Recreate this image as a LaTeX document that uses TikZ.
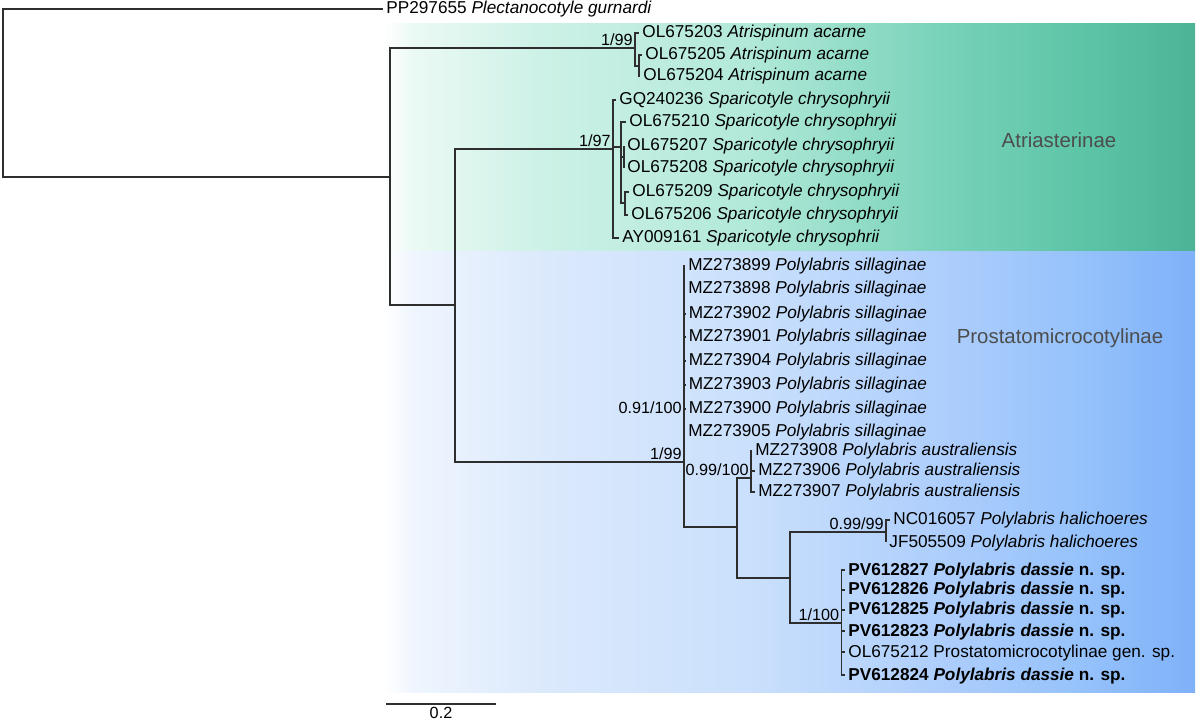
\documentclass[tikz,border=0pt]{standalone}
\usepackage{fontspec}
\setmainfont{Liberation Sans}

\definecolor{TreeLine}{HTML}{2E2E2E}
\definecolor{CladeText}{HTML}{4D4D4D}
% green band
\definecolor{Ga}{RGB}{234,249,244}
\definecolor{Gb}{RGB}{204,241,230}
\definecolor{Gc}{RGB}{178,233,217}
\definecolor{Gd}{RGB}{118,209,184}
\definecolor{Ge}{RGB}{92,196,166}
\definecolor{Gf}{RGB}{76,179,151}
% blue band
\definecolor{Ba}{RGB}{238,245,254}
\definecolor{Bb}{RGB}{219,233,252}
\definecolor{Bc}{RGB}{202,224,252}
\definecolor{Bd}{RGB}{172,205,252}
\definecolor{Be}{RGB}{148,193,251}
\definecolor{Bf}{RGB}{127,177,249}

\pgfdeclarehorizontalshading{AtriBand}{100bp}{color(0bp)=(white); color(25bp)=(white);
  color(27bp)=(Ga); color(35bp)=(Gb); color(47.5bp)=(Gc); color(60bp)=(Gd);
  color(68.5bp)=(Ge); color(75bp)=(Gf); color(100bp)=(Gf)}
\pgfdeclarehorizontalshading{ProstBand}{100bp}{color(0bp)=(white); color(25bp)=(white);
  color(27bp)=(Ba); color(35bp)=(Bb); color(47.5bp)=(Bc); color(60bp)=(Bd);
  color(68.5bp)=(Be); color(75bp)=(Bf); color(100bp)=(Bf)}

\begin{document}
\begin{tikzpicture}[x=0.5pt, y=-0.5pt,
  branch/.style={line width=0.7pt, draw=TreeLine},
  leaf/.style={anchor=west, inner xsep=1.5pt, inner ysep=0pt, text height=6.2pt, text depth=1.2pt,
    font=\fontsize{8.6}{10}\selectfont},
  support/.style={anchor=south east, inner xsep=1pt, inner ysep=1.2pt,
    font=\fontsize{8.1}{10}\selectfont},
  clade/.style={text=CladeText, font=\fontsize{10.2}{12}\selectfont}]

 \useasboundingbox (0,0) rectangle (1200,721);

 %%%%%%%%%% Subfamily bands %%%%%%%%%%
 \shade [shading=AtriBand] (383,24) rectangle (1195,252);
 \shade [shading=ProstBand] (383,252) rectangle (1195,692);

 \node [clade] (atri) at (1059,140) {Atriasterinae};
 \node [clade] (prost) at (1060,338) {Prostatomicrocotylinae};

 %%%%%%%%%% Internal nodes %%%%%%%%%%
 \coordinate (root) at (3,93);
 \coordinate (n1) at (390,177);
 \coordinate (atr) at (635,48);
 \coordinate (atr2) at (639,66);
 \coordinate (n2) at (455,305);
 \coordinate (spa) at (613,149);
 \coordinate (spa1) at (621,147);
 \coordinate (spa2) at (624,157);
 \coordinate (spa3) at (625,203);
 \coordinate (pA) at (684,462);
 \coordinate (pB) at (684,416);
 \coordinate (pC) at (737,527);
 \coordinate (aus) at (751,478);
 \coordinate (pD) at (790,578);
 \coordinate (hal) at (886,532);
 \coordinate (das) at (841.5,623);

 %%%%%%%%%% Leaves %%%%%%%%%%
 \node [leaf] (pp) at (383,9) {PP297655 \textit{Plectanocotyle gurnardi}};

 % Atrispinum
 \node [leaf] (l03) at (639,33) {OL675203 \textit{Atrispinum acarne}};
 \node [leaf] (l05) at (642,55) {OL675205 \textit{Atrispinum acarne}};
 \node [leaf] (l04) at (640,76) {OL675204 \textit{Atrispinum acarne}};

 % Sparicotyle
 \node [leaf] (gq) at (616,100) {GQ240236 \textit{Sparicotyle chrysophryii}};
 \node [leaf] (l10) at (626,122) {OL675210 \textit{Sparicotyle chrysophryii}};
 \node [leaf] (l07) at (624,146) {OL675207 \textit{Sparicotyle chrysophryii}};
 \node [leaf] (l08) at (624,168) {OL675208 \textit{Sparicotyle chrysophryii}};
 \node [leaf] (l09) at (629,192) {OL675209 \textit{Sparicotyle chrysophryii}};
 \node [leaf] (l06) at (628,215) {OL675206 \textit{Sparicotyle chrysophryii}};
 \node [leaf] (ay) at (619,238) {AY009161 \textit{Sparicotyle chrysophrii}};

 % P. sillaginae
 \node [leaf] (m99) at (685,266) {MZ273899 \textit{Polylabris sillaginae}};
 \node [leaf] (m98) at (685,289) {MZ273898 \textit{Polylabris sillaginae}};
 \node [leaf] (m02) at (685.5,314) {MZ273902 \textit{Polylabris sillaginae}};
 \node [leaf] (m01) at (685.5,337) {MZ273901 \textit{Polylabris sillaginae}};
 \node [leaf] (m04) at (685.5,361) {MZ273904 \textit{Polylabris sillaginae}};
 \node [leaf] (m03) at (685.5,385) {MZ273903 \textit{Polylabris sillaginae}};
 \node [leaf] (m00) at (685.5,409) {MZ273900 \textit{Polylabris sillaginae}};
 \node [leaf] (m05) at (685,432) {MZ273905 \textit{Polylabris sillaginae}};

 % P. australiensis
 \node [leaf] (m08) at (752,451) {MZ273908 \textit{Polylabris australiensis}};
 \node [leaf] (m06) at (755,471) {MZ273906 \textit{Polylabris australiensis}};
 \node [leaf] (m07) at (755,492) {MZ273907 \textit{Polylabris australiensis}};

 % P. halichoeres
 \node [leaf] (nc) at (890,520) {NC016057 \textit{Polylabris halichoeres}};
 \node [leaf] (jf) at (886,542) {JF505509 \textit{Polylabris halichoeres}};

 % P. dassie
 \node [leaf] (v27) at (845,570) {\bfseries PV612827 \textit{Polylabris dassie} n. sp.};
 \node [leaf] (v26) at (845,590) {\bfseries PV612826 \textit{Polylabris dassie} n. sp.};
 \node [leaf] (v25) at (845,610) {\bfseries PV612825 \textit{Polylabris dassie} n. sp.};
 \node [leaf] (v23) at (845,631) {\bfseries PV612823 \textit{Polylabris dassie} n. sp.};
 \node [leaf] (ol12) at (845,652) {OL675212 Prostatomicrocotylinae gen. sp.};
 \node [leaf] (v24) at (845,675) {\bfseries PV612824 \textit{Polylabris dassie} n. sp.};

 %%%%%%%%%% Branches %%%%%%%%%%
 \draw [branch] (root) |- (pp.west);
 \draw [branch] (root) |- (n1);
 \draw [branch] (n1) |- (atr);
 \draw [branch] (n1) |- (n2);

 \draw [branch] (atr) |- (l03.west);
 \draw [branch] (atr) |- (atr2);
 \draw [branch] (atr2) |- (l05.west);
 \draw [branch] (atr2) |- (l04.west);

 \draw [branch] (n2) |- (spa);
 \draw [branch] (n2) |- (pA);

 \draw [branch] (spa) |- (gq.west);
 \draw [branch] (spa) |- (spa1);
 \draw [branch] (spa) |- (ay.west);
 \draw [branch] (spa1) |- (l10.west);
 \draw [branch] (spa1) |- (spa2);
 \draw [branch] (spa1) |- (spa3);
 \draw [branch] (spa2) |- (l07.west);
 \draw [branch] (spa2) |- (l08.west);
 \draw [branch] (spa3) |- (l09.west);
 \draw [branch] (spa3) |- (l06.west);

 \draw [branch] (pA) |- (pB);
 \draw [branch] (pA) |- (pC);
 \draw [branch] (pB) |- (m99.west);
 \draw [branch] (pB) |- (m98.west);
 \draw [branch] (pB) |- (m02.west);
 \draw [branch] (pB) |- (m01.west);
 \draw [branch] (pB) |- (m04.west);
 \draw [branch] (pB) |- (m03.west);
 \draw [branch] (pB) |- (m00.west);
 \draw [branch] (pB) |- (m05.west);

 \draw [branch] (pC) |- (aus);
 \draw [branch] (pC) |- (pD);
 \draw [branch] (aus) |- (m08.west);
 \draw [branch] (aus) |- (m06.west);
 \draw [branch] (aus) |- (m07.west);

 \draw [branch] (pD) |- (hal);
 \draw [branch] (pD) |- (das);
 \draw [branch] (hal) |- (nc.west);
 \draw [branch] (hal) |- (jf.west);
 \draw [branch] (das) |- (v27.west);
 \draw [branch] (das) |- (v26.west);
 \draw [branch] (das) |- (v25.west);
 \draw [branch] (das) |- (v23.west);
 \draw [branch] (das) |- (ol12.west);
 \draw [branch] (das) |- (v24.west);

 %%%%%%%%%% Support values %%%%%%%%%%
 \node [support] (s-atr) at (atr) {1/99};
 \node [support] (s-spa) at (spa) {1/97};
 \node [support] (s-pA) at (pA) {1/99};
 \node [support] (s-pB) at (pB) {0.91/100};
 \node [support] (s-aus) at (aus) {0.99/100};
 \node [support] (s-hal) at (hal) {0.99/99};
 \node [support] (s-das) at (das) {1/100};

 %%%%%%%%%% Scale bar %%%%%%%%%%
 \coordinate (bar-l) at (386,704);
 \coordinate (bar-r) at (496,704);
 \draw [branch] (bar-l) -- (bar-r) node [midway, below, inner sep=1pt, font=\fontsize{8.1}{10}\selectfont] (bar-lab) {0.2};

\end{tikzpicture}
\end{document}
